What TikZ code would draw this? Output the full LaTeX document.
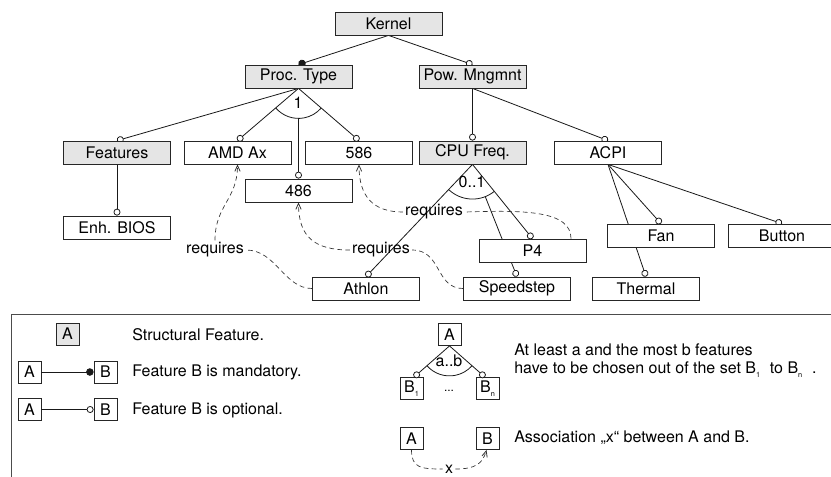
\documentclass[tikz,border=0pt]{standalone}
\usepackage{fontspec}
\setmainfont{TeX Gyre Heros}
\usetikzlibrary{arrows.meta,calc}
\pgfdeclarelayer{back}
\pgfsetlayers{back,main}
\newcommand\lsub[1]{\raisebox{-0.45ex}{\fontsize{5.5}{6}\selectfont #1}}
\tikzset{
  every node/.style={font=\fontsize{12}{14}\selectfont},
  feat/.style={draw=black!85, fill=white, line width=0.6pt, minimum width=80.25pt,
    minimum height=17.25pt, inner sep=0pt},
  sfeat/.style={feat, fill=black!10},
  mini/.style={draw=black!85, fill=white, line width=0.6pt, minimum width=17.25pt,
    minimum height=16.5pt, inner sep=0pt},
  sminibox/.style={mini, fill=black!10},
  plain/.style={line width=0.6pt, black!90},
  opt/.style={plain, -{Circle[fill=white, length=5.2pt, line width=0.6pt]}},
  mand/.style={plain, -{Circle[length=5.6pt]}},
  assoc/.style={dash pattern=on 3.5pt off 2.5pt, line width=0.5pt, black!80},
  assocarrow/.style={assoc, -{Straight Barb[length=4.5pt, width=4pt, line width=0.6pt]}},
  lbl/.style={inner sep=1.5pt},
  legtext/.style={anchor=west, inner sep=0pt},
}
\begin{document}
\begin{tikzpicture}[x=0.75pt, y=-0.75pt]
\useasboundingbox (0,0) rectangle (831,476);

% ---- feature tree ----
\node[sfeat] (kernel)  at (388.5,23.5)  {Kernel};
\node[sfeat] (ptype)   at (298.5,76.5)  {Proc. Type};
\node[sfeat] (pow)     at (472.5,76.5)  {Pow. Mngmnt};
\node[sfeat] (feat)    at (117,152.5)   {Features};
\node[feat]  (amd)     at (237.5,152.5) {AMD Ax};
\node[feat]  (p586)    at (359,152.5)   {586};
\node[sfeat] (cpu)     at (472.5,152.5) {CPU Freq.};
\node[feat]  (acpi)    at (608,152.5)   {ACPI};
\node[feat]  (p486)    at (298.5,190.5) {486};
\node[feat]  (bios)    at (117,227.5)   {Enh. BIOS};
\node[feat]  (p4)      at (532.5,250.5) {P4};
\node[feat]  (fan)     at (661,235.5)   {Fan};
\node[feat]  (button)  at (782,235.5)   {Button};
\node[feat]  (athlon)  at (366,288.5)   {Athlon};
\node[feat]  (speed)   at (517,288.5)   {Speedstep};
\node[feat]  (thermal) at (646,288.5)   {Thermal};

% group cardinalities
\node[lbl] (card1)  at (298,103) {1};
\node[lbl] (card01) at (472,182) {0..1};

% association labels
\node[lbl] (req1) at (215,250) {requires};
\node[lbl] (req2) at (381,250) {requires};
\node[lbl] (req3) at (434,212) {requires};

\begin{pgfonlayer}{back}
  % hierarchy edges
  \draw[mand] (kernel.south) -- (ptype.north);
  \draw[opt]  (kernel.south) -- (pow.north);
  \draw[opt]  (ptype.south) -- (feat.north);
  \draw[opt]  (ptype.south) -- (amd.north);
  \draw[opt]  (ptype.south) -- (p586.north);
  \draw[opt]  ($(ptype.south)!22.5pt!(p486.north)$) -- (p486.north);
  \draw[opt]  (feat.south) -- (bios.north);
  \draw[opt]  (pow.south) -- (cpu.north);
  \draw[opt]  (pow.south) -- (acpi.north);
  \draw[opt]  (cpu.south) -- (athlon.north);
  \draw[opt]  ($(cpu.south)!26pt!(speed.north)$) -- (speed.north);
  \draw[opt]  (cpu.south) -- (p4.north);
  \draw[opt]  (acpi.south) -- (thermal.north);
  \draw[opt]  (acpi.south) -- (fan.north);
  \draw[opt]  (acpi.south) -- (button.north);

  % group arcs
  \draw[plain] let \p1=($(amd.north)-(ptype.south)$), \p2=($(p586.north)-(ptype.south)$),
      \n1={atan2(\y1,\x1)}, \n2={atan2(\y2,\x2)} in
      ($(ptype.south)+(\n1:22.5pt)$) arc[start angle=\n1, end angle=\n2, radius=22.5pt];
  \draw[plain] let \p1=($(athlon.north)-(cpu.south)$), \p2=($(p4.north)-(cpu.south)$),
      \n1={atan2(\y1,\x1)}, \n2={atan2(\y2,\x2)} in
      ($(cpu.south)+(\n1:26pt)$) arc[start angle=\n1, end angle=\n2, radius=26pt];

  % requires associations
  \draw[assoc] (athlon.west) .. controls +(-28,0) and +(30,0) .. (req1.east);
  \draw[assocarrow] (req1.north) .. controls +(0,-35) and +(0,35) .. (amd.south);
  \draw[assoc] (speed.west) .. controls +(-28,0) and +(30,0) .. (req2.east);
  \draw[assocarrow] (req2.west) .. controls +(-35,0) and +(0,35) .. (p486.south);
  \draw[assoc] ($(p4.north)+(38.5,0)$) .. controls +(0,-28) and +(60,-2) .. (req3.east);
  \draw[assocarrow] (req3.west) .. controls +(-30,0) and +(0,32) .. (p586.south);
\end{pgfonlayer}

% ---- legend ----
\draw[line width=0.6pt, black!70] (840,314) -- (11,314) -- (11,490);

\node[sminibox] (lsa) at (67.5,334) {A};
\node[legtext] (lst) at (132,335) {Structural Feature.};

\node[mini] (lma) at (29.5,372) {A};
\node[mini] (lmb) at (105.5,372) {B};
\draw[mand] (lma.east) -- (lmb.west);
\node[legtext] (lmt) at (132,372) {Feature B is mandatory.};

\node[mini] (loa) at (29.5,409.5) {A};
\node[mini] (lob) at (105.5,409.5) {B};
\draw[opt] (loa.east) -- (lob.west);
\node[legtext] (lot) at (132,410) {Feature B is optional.};

\node[mini] (lga) at (449.5,334.5) {A};
\node[mini] (lgb1) at (411.5,388.5) {B\lsub{1}};
\node[mini] (lgbn) at (487.5,388.5) {B\lsub{n}};
\node[lbl] (ldots) at (449,391) {\fontsize{9}{10}\selectfont ...};
\node[lbl] (lab) at (449,361) {a..b};
\draw[opt] (lga.south) -- ($(lgb1.north)+(2.5,0)$);
\draw[opt] (lga.south) -- ($(lgbn.north)+(-2.5,0)$);
\draw[plain] let \p1=($(lgb1.north)+(2.5,0)-(lga.south)$), \p2=($(lgbn.north)+(-2.5,0)-(lga.south)$),
    \n1={atan2(\y1,\x1)}, \n2={atan2(\y2,\x2)} in
    ($(lga.south)+(\n1:22.5pt)$) arc[start angle=\n1, end angle=\n2, radius=22.5pt];
\node[legtext] (lgt1) at (514,350) {At least a and the most b features};
\node[legtext] (lgt2) at (514,370) {have to be chosen out of the set B\lsub{1}\,\, to B\lsub{n}\,\, .};

\node[mini] (laa) at (411.5,438.5) {A};
\node[mini] (lab2) at (487.5,438.5) {B};
\node[lbl] (lx) at (449,469) {x};
\draw[assoc] (laa.south) .. controls +(0,18) and +(-22,0) .. (lx.west);
\draw[assocarrow] (lx.east) .. controls +(20,0) and +(-4,14) .. ($(lab2.south)+(-1,0)$);
\node[legtext] (lat) at (514,438) {Association „x“ between A and B.};
\end{tikzpicture}
\end{document}
